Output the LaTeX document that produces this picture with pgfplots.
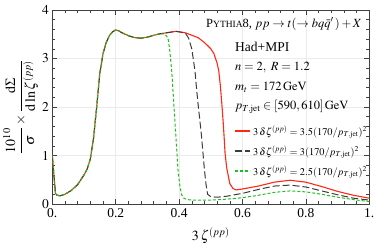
\documentclass[border=0pt]{standalone}
\usepackage{amsmath}
\usepackage{mathptmx}
\usepackage[no-math]{fontspec}
\setmainfont{Liberation Serif}
\usepackage{pgfplots}
\pgfplotsset{compat=1.18}
\definecolor{myred}{RGB}{255,40,20}
\definecolor{mygreen}{RGB}{30,190,30}
\definecolor{mygray}{RGB}{60,60,60}
\begin{document}
\begin{tikzpicture}[x=1pt,y=1pt]
\useasboundingbox (-52.3,-46) rectangle (321.7,204);
\begin{axis}[
  at={(0,0)}, anchor=south west,
  scale only axis, width=317pt, height=194pt,
  xmin=0, xmax=1, ymin=0, ymax=4,
  xtick={0,0.2,0.4,0.6,0.8,1},
  xticklabels={0.,0.2,0.4,0.6,0.8,1.},
  ytick={0,1,2,3,4},
  minor x tick num=4, minor y tick num=4,
  tick align=inside,
  major tick length=5pt, minor tick length=3pt,
  tick style={black!75, line width=0.5pt},
  axis line style={black!75, line width=0.6pt},
  grid=major,
  major grid style={black!8, line width=0.5pt},
  ticklabel style={font=\fontsize{13.5}{14}\selectfont},
  xticklabel style={yshift=-1pt},
  every axis y label/.style={at={(axis description cs:-0.10,0.5)}, rotate=90, anchor=center},
  every axis x label/.style={at={(axis description cs:0.5,-0.165)}, anchor=center},
  ylabel={\fontsize{14}{16}\selectfont$\dfrac{10^{10}}{\sigma}\times\dfrac{\mathrm{d}\Sigma}{\mathrm{d}\ln\zeta^{(pp)}}$},
  xlabel={\fontsize{14}{16}\selectfont$3\,\zeta^{(pp)}$},
  legend style={at={(axis description cs:0.575,0.415)}, anchor=north west, draw=none, fill=none,
    font=\fontsize{10.3}{12}\selectfont, row sep=5pt, inner sep=0pt},
  legend cell align=left,
  legend image code/.code={\draw[#1, line width=1.4pt] (0pt,0pt) -- (15pt,0pt);},
]
\addplot[color=myred, line width=1.1pt] coordinates {
(0,1.0) (0.005,0.6) (0.01,0.22) (0.015,0.18) (0.025,0.17) (0.04,0.2) (0.06,0.28) (0.08,0.4) (0.09,0.5) (0.1,0.6) (0.11,0.72) (0.12,0.93) (0.13,1.35) (0.14,2.0) (0.15,2.7) (0.16,3.1) (0.17,3.33) (0.18,3.47) (0.19,3.55) (0.2,3.59) (0.21,3.57) (0.22,3.53) (0.24,3.47) (0.26,3.43) (0.28,3.42) (0.3,3.44) (0.32,3.48) (0.34,3.51) (0.36,3.53)
(0.38,3.55) (0.39,3.56) (0.40,3.55) (0.42,3.53) (0.44,3.48) (0.46,3.43) (0.48,3.33) (0.5,3.2) (0.51,3.1) (0.52,2.9) (0.525,2.75) (0.53,2.45) (0.535,2.05) (0.54,1.6) (0.545,1.05) (0.55,0.75) (0.56,0.42) (0.57,0.32) (0.58,0.29) (0.6,0.31) (0.65,0.37) (0.7,0.45) (0.75,0.49) (0.8,0.45) (0.85,0.36) (0.9,0.26) (0.95,0.18) (1.0,0.12)
};
\addlegendentry{$3\,\delta\zeta^{(pp)}=3.5(170/p_{T,\mathrm{jet}})^2$}
\addplot[color=mygray, line width=1.0pt, dash pattern=on 7pt off 3pt] coordinates {
(0,1.0) (0.005,0.6) (0.01,0.22) (0.015,0.18) (0.025,0.17) (0.04,0.2) (0.06,0.28) (0.08,0.4) (0.09,0.5) (0.1,0.6) (0.11,0.72) (0.12,0.93) (0.13,1.35) (0.14,2.0) (0.15,2.7) (0.16,3.1) (0.17,3.33) (0.18,3.47) (0.19,3.55) (0.2,3.59) (0.21,3.57) (0.22,3.53) (0.24,3.47) (0.26,3.43) (0.28,3.42) (0.3,3.44) (0.32,3.48) (0.34,3.51) (0.36,3.53)
(0.38,3.55) (0.39,3.56) (0.41,3.54) (0.42,3.52) (0.43,3.42) (0.44,3.2) (0.45,2.75) (0.455,2.38) (0.46,2.05) (0.47,1.45) (0.48,0.7) (0.485,0.4) (0.49,0.2) (0.5,0.15) (0.52,0.14) (0.55,0.16) (0.6,0.22) (0.65,0.3) (0.7,0.37) (0.75,0.39) (0.8,0.35) (0.85,0.27) (0.9,0.19) (0.95,0.12) (1,0.08)
};
\addlegendentry{$3\,\delta\zeta^{(pp)}=3(170/p_{T,\mathrm{jet}})^2$}
\addplot[color=mygreen, line width=1.0pt, dash pattern=on 3pt off 2pt] coordinates {
(0,1.0) (0.005,0.6) (0.01,0.22) (0.015,0.18) (0.025,0.17) (0.04,0.2) (0.06,0.28) (0.08,0.4) (0.09,0.5) (0.1,0.6) (0.11,0.72) (0.12,0.93) (0.13,1.35) (0.14,2.0) (0.15,2.7) (0.16,3.1) (0.17,3.33) (0.18,3.47) (0.19,3.55) (0.2,3.59) (0.21,3.57) (0.22,3.53) (0.24,3.47) (0.26,3.43) (0.28,3.42) (0.3,3.44) (0.32,3.48) (0.34,3.51) (0.355,3.51)
(0.365,3.42) (0.37,3.2) (0.377,2.72) (0.387,1.69) (0.397,0.66) (0.403,0.35) (0.408,0.19) (0.415,0.12) (0.425,0.09) (0.45,0.08) (0.5,0.08) (0.55,0.1) (0.6,0.13) (0.65,0.18) (0.7,0.24) (0.75,0.27) (0.8,0.25) (0.85,0.2) (0.9,0.14) (0.95,0.09) (1,0.05)
};
\addlegendentry{$3\,\delta\zeta^{(pp)}=2.5(170/p_{T,\mathrm{jet}})^2$}
\end{axis}
\node[anchor=east, inner sep=0pt, font=\fontsize{12.5}{14}\selectfont] at (309.7,180) {P{\fontsize{9.5}{10}\selectfont YTHIA}8, $pp\to t(\to bq\bar{q}{}^{\prime}\,)+X$};
\node[anchor=west, inner sep=0pt, font=\fontsize{13.5}{15}\selectfont] at (182.7,157) {Had+MPI};
\node[anchor=west, inner sep=0pt, font=\fontsize{12.5}{14}\selectfont] at (182.7,136) {$n=2,\ R=1.2$};
\node[anchor=west, inner sep=0pt, font=\fontsize{12.5}{14}\selectfont] at (182.7,117) {$m_t=172\,\mathrm{GeV}$};
\node[anchor=west, inner sep=0pt, font=\fontsize{12.5}{14}\selectfont] at (182.7,97) {$p_{T,\mathrm{jet}}\in[590,610]\,\mathrm{GeV}$};
\end{tikzpicture}
\end{document}
